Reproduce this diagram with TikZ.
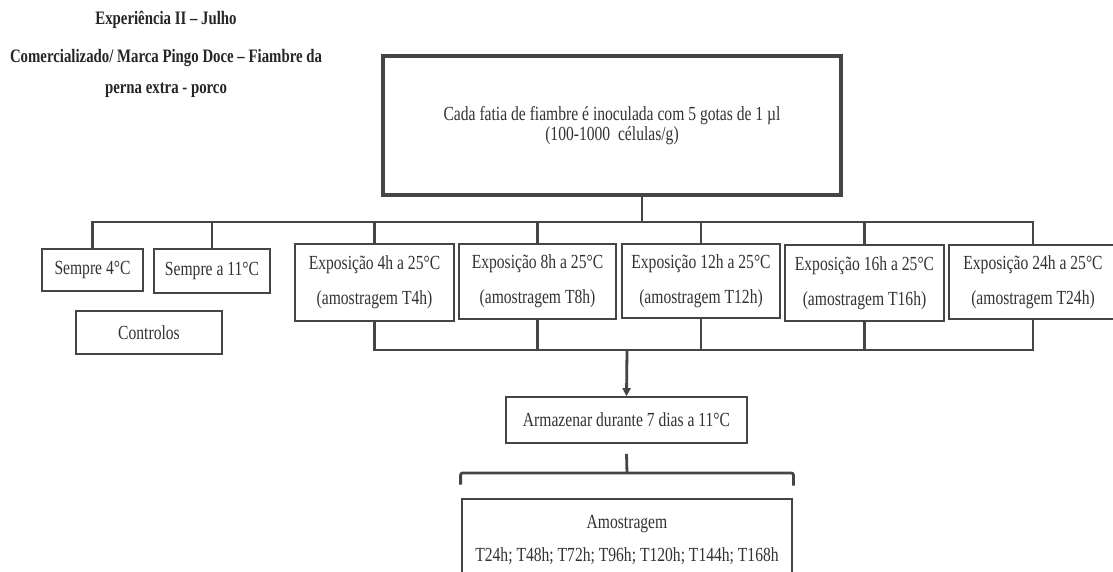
\documentclass[tikz,border=0pt]{standalone}
\usepackage{fontspec}
\setmainfont{Liberation Serif}[FakeStretch=0.78]
\usetikzlibrary{arrows.meta}
\definecolor{ink}{HTML}{454545}
\definecolor{txt}{HTML}{333333}
\tikzset{
  box/.style={draw=ink, line width=2.8pt, rectangle, inner sep=0pt, align=center,
    text=txt, font=\fontsize{20}{23}\selectfont},
  conn/.style={draw=ink, line width=2.8pt},
  titletext/.style={text=black!85, font=\fontsize{19}{22}\selectfont\bfseries, inner sep=0pt},
}
\begin{document}
\begin{tikzpicture}[x=1pt,y=-1pt]
\useasboundingbox[fill=white] (0,0) rectangle (1113,572);

% title
\node[titletext] (t1) at (166,20) {Experiência II – Julho};
\node[titletext] (t2) at (166,58) {Comercializado/ Marca Pingo Doce – Fiambre da};
\node[titletext] (t3) at (166,90) {perna extra - porco};

% top box
\node[box, line width=3.2pt, minimum width=458pt, minimum height=139pt,
  font=\fontsize{20}{20}\selectfont] (top) at (612,125.5)
  {Cada fatia de fiambre é inoculada com 5 gotas de 1 µl\\(100-1000~ células/g)};

% controls
\node[box, minimum width=101pt, minimum height=42pt] (s4) at (92.5,270) {Sempre 4°C};
\node[box, minimum width=116pt, minimum height=44pt] (s11) at (212,271) {Sempre a 11°C};
\node[box, minimum width=146pt, minimum height=43pt] (ctl) at (149,332.5) {Controlos};

% exposure boxes
\node[box, minimum width=159pt, minimum height=77pt] (e4) at (374.5,282.5)
  {Exposição 4h a 25°C\\[12pt](amostragem T4h)};
\node[box, minimum width=157pt, minimum height=75pt] (e8) at (537.5,281.5)
  {Exposição 8h a 25°C\\[12pt](amostragem T8h)};
\node[box, minimum width=158pt, minimum height=74pt] (e12) at (701,281)
  {Exposição 12h a 25°C\\[12pt](amostragem T12h)};
\node[box, minimum width=159pt, minimum height=76pt] (e16) at (864.5,283)
  {Exposição 16h a 25°C\\[12pt](amostragem T16h)};
\node[box, minimum width=168pt, minimum height=74pt] (e24) at (1033,282)
  {Exposição 24h a 25°C\\[12pt](amostragem T24h)};

% storage and sampling
\node[box, line width=1.6pt, minimum width=241pt, minimum height=46pt] (arm) at (626.5,420)
  {Armazenar durante 7 dias a 11°C};
\node[box, minimum width=330pt, minimum height=81pt] (amo) at (627,539.5)
  {Amostragem\\[10pt]T24h; T48h; T72h; T96h; T120h; T144h; T168h};

% top tree
\coordinate (tb) at (642,222);
\draw[conn] (top.south -| tb) -- (tb);
\draw[conn] (s4.north) |- (tb) -| (e24.north);
\foreach \n in {s11,e4,e8,e12,e16} \draw[conn] (\n.north) -- (\n.north |- tb);

% bottom collector
\coordinate (bb) at (627,350);
\draw[conn] (e4.south) |- (bb) -| (e24.south);
\foreach \n in {e8,e12,e16} \draw[conn] (\n.south) -- (\n.south |- bb);
\draw[conn, -{Triangle[length=8pt,width=8pt]}] (bb) -- (arm.north);

% to sampling
\coordinate (ab) at (627,473);
\draw[conn] ([yshift=-10pt]arm.south) -- (ab);
\draw[conn, rounded corners=2pt] ([yshift=13pt]amo.north west) |- (ab) -| ([yshift=12pt]amo.north east);
\end{tikzpicture}
\end{document}
